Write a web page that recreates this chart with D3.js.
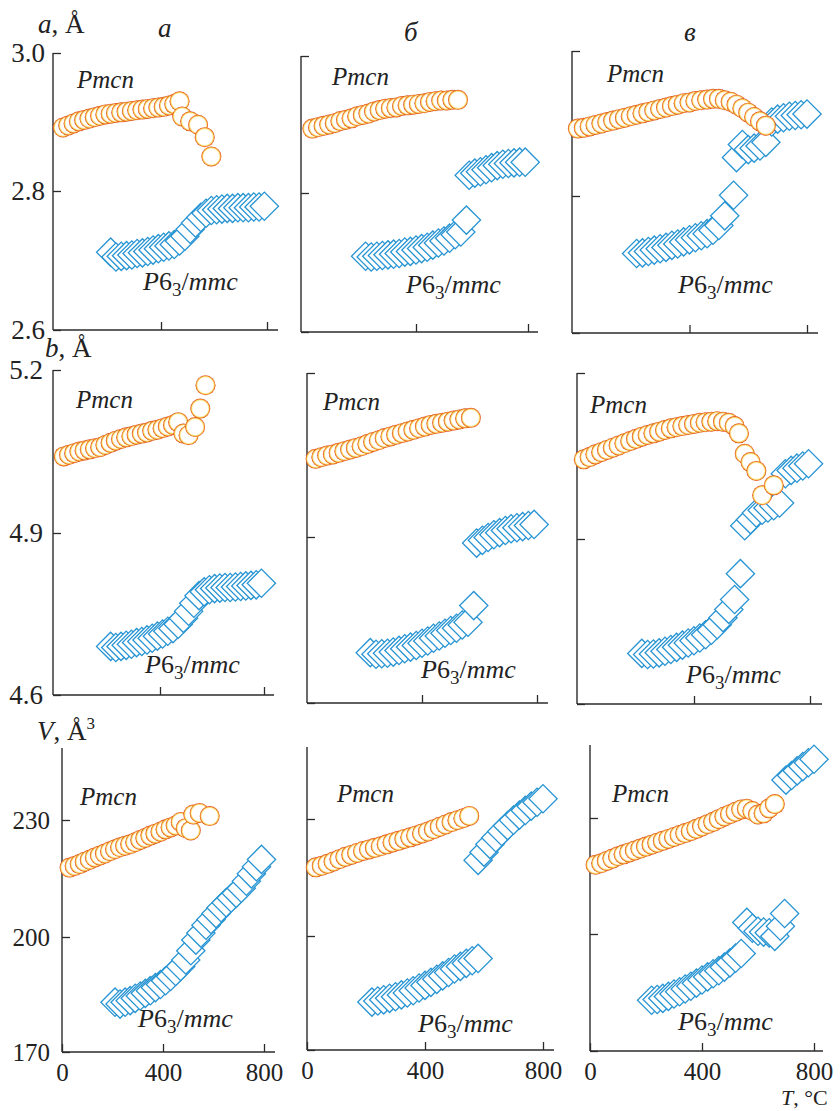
<!DOCTYPE html>
<html><head><meta charset="utf-8">
<script src="https://cdn.jsdelivr.net/npm/d3@7"></script>
<style>body{margin:0;background:#fff}svg{display:block}text{font-family:"Liberation Serif","Times New Roman",serif}</style>
</head><body>
<script>
// Lattice parameters a, b and cell volume V versus temperature T (°C)
// for three samples (columns а, б, в); circles = Pmcn, diamonds = P6_3/mmc.

// ---- row a, Å ----
const tA1c = [30,50,70,90,110,130,150,170,190,210,230,250,270,290,310,330,350,370,390,410,430,450,470,480,510,540,565,590];
const vA1c = [2.892,2.895,2.898,2.901,2.903,2.905,2.907,2.909,2.911,2.912,2.913,2.914,2.915,2.916,2.917,2.918,2.919,2.920,2.921,2.922,2.924,2.926,2.930,2.908,2.901,2.896,2.878,2.850];
const tA1h = [210,230,250,270,290,310,330,350,370,390,410,430,450,470,490,510,530,550,570,590,610,630,650,670,690,710,730,750,770,790];
const vA1h = [2.712,2.705,2.706,2.707,2.708,2.710,2.711,2.713,2.715,2.717,2.719,2.721,2.723,2.728,2.735,2.745,2.754,2.762,2.768,2.772,2.773,2.774,2.775,2.775,2.776,2.776,2.776,2.777,2.777,2.778];

const tA2c = [30,50,70,90,110,130,150,170,190,210,230,250,270,290,310,330,350,370,390,410,430,450,470,490,510,530,550];
const vA2c = [2.894,2.896,2.898,2.900,2.902,2.905,2.907,2.909,2.912,2.914,2.916,2.919,2.921,2.923,2.924,2.925,2.927,2.928,2.929,2.930,2.931,2.933,2.934,2.935,2.935,2.936,2.936];
const tA2h1 = [220,240,260,280,300,320,340,360,380,400,420,440,460,480,500,520,540,560,580];
const vA2h1 = [2.709,2.708,2.709,2.710,2.711,2.712,2.713,2.715,2.716,2.718,2.720,2.722,2.725,2.728,2.731,2.735,2.740,2.744,2.761];
const tA2h2 = [590,610,630,650,670,690,710,730,750,770,790];
const vA2h2 = [2.826,2.829,2.831,2.834,2.837,2.840,2.842,2.843,2.844,2.845,2.845];

const tA3c = [20,40,60,80,100,120,140,160,180,200,220,240,260,280,300,320,340,360,380,400,420,440,460,480,500,520,540,560,580,600,620,640,660];
const vA3c = [2.893,2.894,2.896,2.898,2.900,2.902,2.904,2.906,2.908,2.910,2.912,2.914,2.916,2.918,2.920,2.922,2.924,2.926,2.928,2.929,2.931,2.932,2.933,2.934,2.934,2.932,2.930,2.926,2.921,2.915,2.909,2.903,2.897];
const tA3h1 = [220,240,260,280,300,320,340,360,380,400,420,440,460,480,500,520,550];
const vA3h1 = [2.716,2.717,2.719,2.721,2.723,2.725,2.728,2.730,2.733,2.736,2.739,2.742,2.745,2.750,2.757,2.771,2.801];
const tA3h2 = [560,580,600,620,640,660,680,700,720,740,760,780,800];
const vA3h2 = [2.853,2.871,2.864,2.866,2.869,2.874,2.902,2.906,2.908,2.910,2.911,2.912,2.913];

// ---- row b, Å ----
const tB1c = [30,50,70,90,110,130,150,170,190,210,230,250,270,290,310,330,350,370,390,410,430,450,470,490,510,535,555,575];
const vB1c = [5.041,5.044,5.047,5.050,5.052,5.054,5.056,5.058,5.062,5.066,5.070,5.073,5.076,5.078,5.081,5.083,5.085,5.088,5.090,5.093,5.096,5.099,5.104,5.083,5.080,5.095,5.129,5.172];
const tB1h = [210,230,250,270,290,310,330,350,370,390,410,430,450,470,490,510,530,550,570,590,610,630,650,670,690,710,730,750,770,790];
const vB1h = [4.690,4.688,4.690,4.692,4.694,4.697,4.699,4.702,4.705,4.709,4.713,4.718,4.723,4.731,4.742,4.755,4.770,4.784,4.791,4.795,4.797,4.798,4.799,4.799,4.800,4.801,4.802,4.803,4.804,4.807];

const tB2c = [30,50,70,90,110,130,150,170,190,210,230,250,270,290,310,330,350,370,390,410,430,450,470,490,510,530,550,570];
const vB2c = [5.043,5.046,5.049,5.051,5.054,5.057,5.060,5.063,5.066,5.070,5.074,5.077,5.081,5.084,5.087,5.090,5.093,5.096,5.099,5.102,5.105,5.107,5.109,5.111,5.113,5.115,5.117,5.118];
const tB2h1 = [220,240,260,280,300,320,340,360,380,400,420,440,460,480,500,520,540,560,580];
const vB2h1 = [4.691,4.688,4.689,4.690,4.692,4.695,4.698,4.701,4.704,4.708,4.712,4.717,4.721,4.726,4.731,4.735,4.741,4.746,4.776];
const tB2h2 = [590,610,630,650,670,690,710,730,750,770,790];
const vB2h2 = [4.889,4.894,4.899,4.904,4.908,4.912,4.915,4.917,4.919,4.921,4.923];

const tB3c = [20,40,60,80,100,120,140,160,180,200,220,240,260,280,300,320,340,360,380,400,420,440,460,480,500,520,540,555,575,595,615,635,675];
const vB3c = [5.044,5.048,5.053,5.057,5.061,5.065,5.069,5.073,5.077,5.081,5.085,5.088,5.091,5.094,5.097,5.100,5.102,5.104,5.106,5.108,5.110,5.111,5.112,5.113,5.112,5.110,5.104,5.091,5.054,5.039,5.023,4.979,4.997];
const tB3h1 = [220,240,260,280,300,320,340,360,380,400,420,440,460,480,500,520,540,560];
const vB3h1 = [4.692,4.690,4.691,4.693,4.696,4.699,4.703,4.707,4.711,4.715,4.720,4.726,4.734,4.744,4.757,4.772,4.790,4.837];
const tB3h2 = [575,595,615,635,655,675,695,715,735,755,775,795];
const vB3h2 = [4.924,4.935,4.947,4.952,4.956,4.960,4.965,5.018,5.024,5.028,5.032,5.036];

// ---- row V, Å³ ----
const tV1c = [30,50,70,90,110,130,150,170,190,210,230,250,270,290,310,330,350,370,390,410,430,450,470,490,510,520,545,585];
const vV1c = [217.8,218.2,218.7,219.3,219.8,220.4,220.9,221.4,222.0,222.5,223.0,223.4,223.8,224.3,224.9,225.4,226.0,226.5,227.0,227.6,228.1,228.6,229.5,227.9,227.3,231.4,231.8,231.0];
const tV1h = [210,230,250,270,290,310,330,350,370,390,410,430,450,470,490,510,530,550,570,590,610,630,650,670,690,710,730,750,770,790];
const vV1h = [183.0,182.5,183.0,183.4,184.0,184.6,185.3,186.0,186.8,187.6,188.6,189.7,191.0,192.3,194.0,196.4,199.2,201.0,203.0,204.5,206.0,207.5,208.8,210.0,211.2,212.5,214.3,216.2,218.0,219.9];

const tV2c = [30,50,70,90,110,130,150,170,190,210,230,250,270,290,310,330,350,370,390,410,430,450,470,490,510,530,550];
const vV2c = [217.6,218.0,218.5,219.1,219.7,220.3,220.8,221.3,221.8,222.2,222.6,223.0,223.5,224.0,224.4,224.9,225.3,225.8,226.3,226.8,227.4,228.0,228.6,229.2,229.7,230.2,230.8];
const tV2h1 = [220,240,260,280,300,320,340,360,380,400,420,440,460,480,500,520,540,560,580];
const vV2h1 = [182.6,182.9,183.2,183.6,184.0,184.5,185.0,185.6,186.3,187.0,187.8,188.6,189.5,190.4,191.3,192.0,192.8,193.5,194.1];
const tV2h2 = [580,600,620,640,660,680,700,720,740,760,780,800];
const vV2h2 = [219.4,221.5,223.5,225.2,226.8,228.3,229.7,231.0,232.2,233.3,234.3,235.2];

const tV3c = [20,40,60,80,100,120,140,160,180,200,220,240,260,280,300,320,340,360,380,400,420,440,460,480,500,520,540,560,580,600,620,640,660];
const vV3c = [217.9,218.3,218.9,219.5,220.1,220.6,221.1,221.6,222.1,222.6,223.1,223.6,224.1,224.6,225.1,225.6,226.1,226.6,227.2,227.8,228.4,229.0,229.7,230.4,231.0,231.6,232.2,232.4,231.8,230.9,231.2,232.5,233.6];
const tV3h1 = [220,240,260,280,300,320,340,360,380,400,420,440,460,480,500,520,540,560,580,600,620,640,660,680,695];
const vV3h1 = [183.0,183.2,183.5,184.0,184.6,185.2,185.9,186.6,187.4,188.2,189.0,189.8,190.6,191.5,192.6,193.8,195.0,203.0,201.5,200.7,200.5,200.3,199.4,202.0,205.3];
const tV3h2 = [700,720,740,760,780,800];
const vV3h2 = [239.8,241.0,242.2,243.3,244.3,245.2];

// tick values and labels
const xTicks = [0, 400, 800];
const yTicksA = [2.6, 2.8, 3.0];
const yTicksB = [4.6, 4.9, 5.2];
const yTicksV = [170, 200, 230];
const columnLetters = ["а", "б", "в"];

// ---- drawing ----
const W = 840, H = 1111;
const FONT = '"Liberation Serif","Times New Roman",serif';
const svg = d3.select("body").append("svg").attr("width", W).attr("height", H);

const defs = svg.append("defs");
const grad = defs.append("radialGradient").attr("id", "ring");
[[0, "#ffffff"], [0.74, "#ffffff"], [0.82, "#fdefb0"], [0.89, "#f6c04a"], [0.95, "#ea6a24"], [1, "#d5431c"]]
  .forEach(([o, c]) => grad.append("stop").attr("offset", o).attr("stop-color", c));

// panel frames (pixel geometry of each small plot)
const panels = [
  {ax:53,  x0:55,  x1:267, xEnd:278, yTop:53,  yBot:330,  yRange:[330,191,53],    yTicks:yTicksA, fmt:d3.format(".1f"), pad:8,  fs:27,
   circ:[[tA1c,vA1c]], diam:[[tA1h,vA1h]], pm:[77,88],   hx:[143,290]},
  {ax:301, x0:304, x1:528, xEnd:538, yTop:56,  yBot:332,  yRange:[332,193,56],    yTicks:yTicksA,
   circ:[[tA2c,vA2c]], diam:[[tA2h1,vA2h1],[tA2h2,vA2h2]], pm:[332,85], hx:[406,293]},
  {ax:572, x0:572, x1:807, xEnd:818, yTop:51,  yBot:333,  yRange:[333,196,51],    yTicks:yTicksA,
   circ:[[tA3c,vA3c]], diam:[[tA3h1,vA3h1],[tA3h2,vA3h2]], pm:[607,82], hx:[678,293]},
  {ax:53,  x0:56,  x1:264, xEnd:274, yTop:370, yBot:695,  yRange:[695,533,370],   yTicks:yTicksB, fmt:d3.format(".1f"), pad:10, fs:27,
   circ:[[tB1c,vB1c]], diam:[[tB1h,vB1h]], pm:[76,408],  hx:[145,673]},
  {ax:307, x0:307, x1:537, xEnd:548, yTop:373, yBot:703,  yRange:[703,537,373],   yTicks:yTicksB,
   circ:[[tB2c,vB2c]], diam:[[tB2h1,vB2h1],[tB2h2,vB2h2]], pm:[323,410], hx:[421,678]},
  {ax:577, x0:578, x1:810, xEnd:822, yTop:373, yBot:704,  yRange:[704,539,373],   yTicks:yTicksB,
   circ:[[tB3c,vB3c]], diam:[[tB3h1,vB3h1],[tB3h2,vB3h2]], pm:[590,413], hx:[686,683]},
  {ax:62,  x0:62,  x1:264, xEnd:275, yTop:748, yBot:1052, yRange:[1052,937,820],  yTicks:yTicksV, fmt:d3.format("d"), pad:12, fs:25, xLab:true,
   circ:[[tV1c,vV1c]], diam:[[tV1h,vV1h]], pm:[80,805],  hx:[138,1027]},
  {ax:307, x0:307, x1:543, xEnd:554, yTop:747, yBot:1050, yRange:[1050,936,819],  yTicks:yTicksV, xLab:true,
   circ:[[tV2c,vV2c]], diam:[[tV2h1,vV2h1],[tV2h2,vV2h2]], pm:[337,802], hx:[418,1032]},
  {ax:590, x0:590, x1:814, xEnd:823, yTop:745, yBot:1051, yRange:[1051,934,818],  yTicks:yTicksV, xLab:true,
   circ:[[tV3c,vV3c]], diam:[[tV3h1,vV3h1],[tV3h2,vV3h2]], pm:[612,802], hx:[678,1030]}
];

const diamondPath = d3.symbol(d3.symbolSquare, 400)();
const AXC = "#2b2b2b";

panels.forEach(p => {
  const x = d3.scaleLinear().domain([0, 800]).range([p.x0, p.x1]);
  const y = d3.scaleLinear().domain(p.yTicks).range(p.yRange);
  const g = svg.append("g");

  // axis lines
  g.append("line").attr("x1", p.ax).attr("x2", p.ax).attr("y1", p.yTop).attr("y2", p.yBot)
    .attr("stroke", AXC).attr("stroke-width", 1.4);
  g.append("line").attr("x1", p.ax).attr("x2", p.xEnd).attr("y1", p.yBot).attr("y2", p.yBot)
    .attr("stroke", AXC).attr("stroke-width", 1.4);

  // y ticks (inward) with labels in the first column
  const ya = d3.axisLeft(y).tickValues(p.yTicks).tickSizeInner(-8).tickSizeOuter(0)
    .tickPadding(p.pad || 8).tickFormat(p.fmt ? p.fmt : () => "");
  const gy = g.append("g").attr("transform", `translate(${p.ax},0)`).call(ya);
  gy.select(".domain").remove();
  gy.attr("font-family", FONT);
  gy.selectAll("line").attr("stroke", AXC).attr("stroke-width", 1.3);
  gy.selectAll("text").attr("font-size", p.fs || 27).attr("font-family", FONT).attr("fill", "#222");

  // x ticks (inward), labels only on the bottom row
  const xa = d3.axisBottom(x).tickValues(p.xLab ? xTicks : xTicks.slice(1)).tickSizeInner(-8).tickSizeOuter(0)
    .tickPadding(11).tickFormat(p.xLab ? d3.format("d") : () => "");
  const gx = g.append("g").attr("transform", `translate(0,${p.yBot})`).call(xa);
  gx.select(".domain").remove();
  gx.attr("font-family", FONT);
  gx.selectAll("line").attr("stroke", AXC).attr("stroke-width", 1.3);
  gx.selectAll("text").attr("font-size", 25).attr("font-family", FONT).attr("fill", "#222");

  // P6_3/mmc points
  p.diam.forEach(([ts, vs]) => {
    g.append("g").selectAll("path").data(d3.zip(ts, vs)).join("path")
      .attr("d", diamondPath)
      .attr("transform", d => `translate(${x(d[0])},${y(d[1])}) rotate(45)`)
      .attr("fill", "#fff").attr("stroke", "#2794d3").attr("stroke-width", 1.3);
  });

  // Pmcn points
  p.circ.forEach(([ts, vs]) => {
    g.append("g").selectAll("circle").data(d3.zip(ts, vs)).join("circle")
      .attr("cx", d => x(d[0])).attr("cy", d => y(d[1])).attr("r", 10)
      .attr("fill", "url(#ring)");
  });

  // phase labels
  g.append("text").attr("x", p.pm[0]).attr("y", p.pm[1]).attr("font-size", 25)
    .attr("font-family", FONT).attr("font-style", "italic").attr("fill", "#222").text("Pmcn");
  const hx = g.append("text").attr("x", p.hx[0]).attr("y", p.hx[1]).attr("font-size", 26)
    .attr("font-family", FONT).attr("font-style", "italic").attr("fill", "#222");
  hx.append("tspan").text("P");
  hx.append("tspan").attr("font-style", "normal").text("6");
  hx.append("tspan").attr("font-style", "normal").attr("font-size", 19).attr("dy", 6).text("3");
  hx.append("tspan").attr("dy", -6).attr("font-style", "normal").text("/");
  hx.append("tspan").text("mmc");
});

// column letters
[[158, 37], [404, 41], [684, 41]].forEach(([cx, cy], i) => {
  svg.append("text").attr("x", cx).attr("y", cy).attr("font-size", 27).attr("font-family", FONT)
    .attr("font-style", "italic").attr("fill", "#222").text(columnLetters[i]);
});

// axis titles
function title(xp, yp, sym, unit, sup, fs) {
  const t = svg.append("text").attr("x", xp).attr("y", yp).attr("font-size", fs || 27)
    .attr("font-family", FONT).attr("fill", "#222");
  t.append("tspan").attr("font-style", "italic").text(sym);
  t.append("tspan").text(unit);
  if (sup) t.append("tspan").attr("font-size", 17).attr("dy", -11).text(sup);
}
title(38, 33, "a", ", Å");
title(45, 357, "b", ", Å");
title(37, 740, "V", ", Å", "3");
title(781, 1105, "T", ", °C", null, 22);
</script>
</body></html>
